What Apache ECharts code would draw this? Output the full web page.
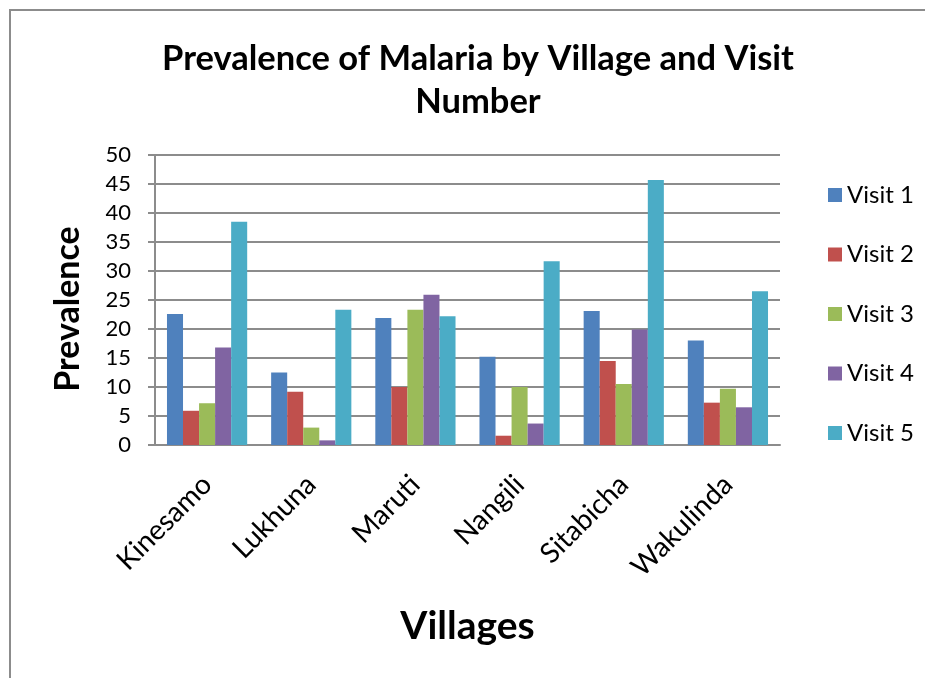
<!DOCTYPE html>
<html>
<head>
<meta charset="utf-8">
<title>Prevalence of Malaria by Village and Visit Number</title>
<script src="https://cdn.jsdelivr.net/npm/echarts@6/dist/echarts.min.js"></script>
<style>
  html, body { margin: 0; padding: 0; background: #fff; }
  #chart { width: 925px; height: 678px; }
</style>
</head>
<body>
<div id="chart"></div>
<script>
// Villages along the x axis
const villages = ['Kinesamo', 'Lukhuna', 'Maruti', 'Nangili', 'Sitabicha', 'Wakulinda'];

// Malaria prevalence per visit, one value per village
const visit1 = [22.6, 12.5, 21.9, 15.2, 23.1, 18.0];
const visit2 = [5.9, 9.2, 10.0, 1.6, 14.5, 7.3];
const visit3 = [7.2, 3.0, 23.3, 10.0, 10.5, 9.7];
const visit4 = [16.8, 0.8, 25.9, 3.7, 19.9, 6.5];
const visit5 = [38.5, 23.3, 22.2, 31.7, 45.7, 26.5];

const seriesNames = ['Visit 1', 'Visit 2', 'Visit 3', 'Visit 4', 'Visit 5'];
const seriesValues = [visit1, visit2, visit3, visit4, visit5];
const palette = ['#4F81BD', '#C0504D', '#9BBB59', '#8064A2', '#4BACC6'];

const FONT = 'Lato, "Open Sans", sans-serif';

const chart = echarts.init(document.getElementById('chart'));

chart.setOption({
  animation: false,
  color: palette,
  textStyle: { fontFamily: FONT, color: '#000' },
  title: {
    text: 'Prevalence of Malaria by Village and Visit\nNumber',
    left: 473,
    textAlign: 'center',
    top: 32,
    textStyle: { fontFamily: FONT, fontSize: 34.5, fontWeight: 'bold', color: '#000', lineHeight: 43 }
  },
  graphic: [{
    type: 'polyline',
    shape: { points: [[10, 678], [10, 10], [925, 10]] },
    style: { stroke: '#8c8c8c', lineWidth: 2, fill: null }
  }],
  legend: {
    orient: 'vertical',
    left: 828,
    top: 183,
    padding: 0,
    itemWidth: 14,
    itemHeight: 14,
    itemGap: 35.5,
    icon: 'rect',
    data: seriesNames,
    textStyle: { fontFamily: FONT, fontSize: 24, color: '#000', lineHeight: 24 }
  },
  grid: { left: 155, right: 145, top: 155, bottom: 233 },
  xAxis: {
    type: 'category',
    data: villages,
    name: 'Villages',
    nameLocation: 'middle',
    nameGap: 162,
    nameTextStyle: { fontFamily: FONT, fontSize: 39, fontWeight: 'bold', color: '#000' },
    axisLine: { lineStyle: { color: '#8c8c8c', width: 2 } },
    axisTick: { show: false },
    axisLabel: { interval: 0, rotate: 45, fontSize: 28, color: '#000', margin: 35 }
  },
  yAxis: {
    type: 'value',
    min: 0,
    max: 50,
    interval: 5,
    name: 'Prevalence',
    nameLocation: 'middle',
    nameGap: 70,
    nameTextStyle: { fontFamily: FONT, fontSize: 34, fontWeight: 'bold', color: '#000', padding: [0, 18, 0, 0] },
    axisLine: { show: true, lineStyle: { color: '#8c8c8c', width: 2 } },
    axisTick: { show: true, inside: false, length: 7, lineStyle: { color: '#8c8c8c', width: 2 } },
    axisLabel: { fontSize: 22, color: '#000', margin: 24 },
    splitLine: { lineStyle: { color: '#8c8c8c', width: 2 } }
  },
  series: seriesNames.map((name, i) => ({
    name: name,
    type: 'bar',
    data: seriesValues[i],
    barGap: '0%',
    barCategoryGap: '23%'
  }))
});
</script>
</body>
</html>
